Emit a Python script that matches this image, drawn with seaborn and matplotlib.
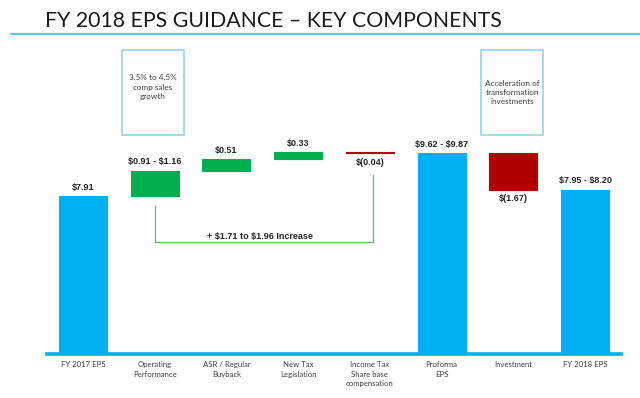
import matplotlib
matplotlib.use("Agg")
import matplotlib.pyplot as plt
import seaborn as sns
import pandas as pd
from matplotlib.patches import Rectangle
from matplotlib.lines import Line2D
from matplotlib.transforms import blended_transform_factory

# waterfall steps
categories = ["FY 2017 EPS", "Operating\nPerformance", "ASR / Regular\nBuyback",
              "New Tax\nLegislation", "Income Tax\nShare base\ncompensation",
              "Proforma\nEPS", "Investment", "FY 2018 EPS"]
kinds = ["total", "up", "up", "up", "down", "total", "down", "total"]
values = [7.91, 1.16, 0.51, 0.33, -0.04, 9.87, -1.67, 8.20]
value_labels = ["$7.91", "$0.91 - $1.16", "$0.51", "$0.33", "$(0.04)",
                "$9.62 - $9.87", "$(1.67)", "$7.95 - $8.20"]

bar_colors = {"total": "#00b0f0", "up": "#00b050", "down": "#b00000"}

# running totals -> bar bottoms
bottoms = []
running = 0
for k, v in zip(kinds, values):
    if k == "total":
        bottoms.append(0)
        running = v
    else:
        bottoms.append(running)
        running += v

df = pd.DataFrame({"step": categories, "height": values, "bottom": bottoms})

sns.set_style("white")
plt.rcParams["font.family"] = ["Lato", "DejaVu Sans"]

fig = plt.figure(figsize=(6.4, 3.98), dpi=100)
ax = fig.add_axes([47 / 640, 44 / 398, 574 / 640, 314 / 398])

sns.barplot(data=df, x="step", y="height", bottom=df["bottom"].values,
            color="#00b0f0", width=0.67, saturation=1, errorbar=None, ax=ax)
for patch, k in zip(ax.patches, kinds):
    patch.set_facecolor(bar_colors[k])
    patch.set_edgecolor(bar_colors[k])
    patch.set_linewidth(0.8)

ax.set_xlim(-0.5, 7.5)
ax.set_ylim(0.66, 15.06)
ax.set_xlabel("")
ax.set_ylabel("")
ax.set_yticks([])
for s in ["left", "top", "right"]:
    ax.spines[s].set_visible(False)
ax.spines["bottom"].set_color("#00b0f0")
ax.spines["bottom"].set_linewidth(2.6)
ax.tick_params(axis="x", length=0, pad=5, labelsize=5.6, labelcolor="#404040")
for lab in ax.get_xticklabels():
    lab.set_linespacing(1.45)

bold = dict(fontsize=6.5, fontweight="bold", family=["Liberation Sans", "DejaVu Sans"],
            color="#262626")

# value labels
for i, (k, b, v, txt) in enumerate(zip(kinds, bottoms, values, value_labels)):
    top = b + v
    txt = txt.replace("$", r"\$")
    if k == "down":
        ax.annotate(txt, (i, top), xytext=(0, -3.5), textcoords="offset points",
                    ha="center", va="top", **bold)
    else:
        ax.annotate(txt, (i, top), xytext=(0, 3), textcoords="offset points",
                    ha="center", va="bottom", **bold)

# call-out boxes
trans = blended_transform_factory(ax.transData, ax.transAxes)
for x0, cx, cy, txt in [(0.55, 0.97, 0.85, "3.5% to 4.5%\ncomp sales\ngrowth"),
                        (5.55, 5.99, 0.833, "Acceleration of\ntransformation\ninvestments")]:
    ax.add_patch(Rectangle((x0, 0.697), 0.86, 0.271, transform=trans, fill=False,
                           edgecolor="#8fd6ef", linewidth=1.2, clip_on=False))
    ax.text(cx, cy, txt, transform=trans, ha="center", va="center", fontsize=5.9,
            linespacing=1.4, color="#404040")

# bracket for the total increase
ax.plot([1, 1, 4.04, 4.04], [7.45, 5.80, 5.80, 8.87], color="#5cbf6c", lw=0.9)
ax.text(2.47, 6.07, r"+ \$1.71 to \$1.96 Increase", ha="center", va="center", **bold)

# slide title
fig.text(45 / 640, 1 - 27 / 398, "FY 2018 EPS GUIDANCE \u2013 KEY COMPONENTS",
         fontsize=15.3, va="baseline", color="#1a1a1a")
fig.add_artist(Line2D([11 / 640, 1], [1 - 34.3 / 398] * 2, color="#5bc8ef", lw=1.6))

fig.savefig("out.png", dpi=100)
